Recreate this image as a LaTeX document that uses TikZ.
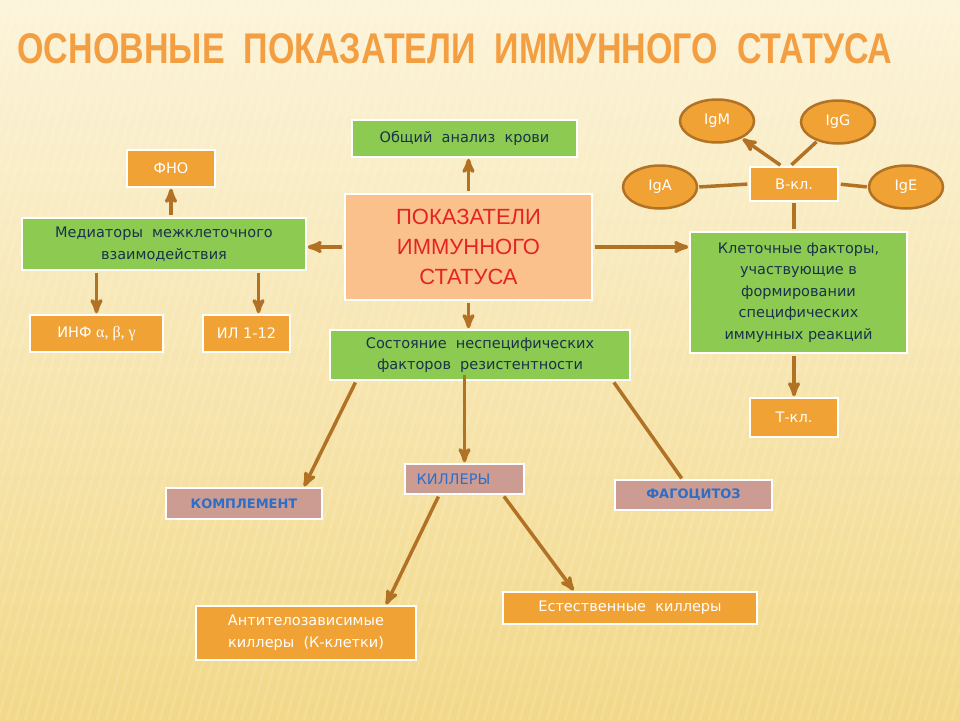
\documentclass[tikz,border=0pt]{standalone}
\usepackage{fontspec}
\setmainfont{DejaVu Sans}
\newfontfamily\titlefont{Liberation Sans}
\newfontfamily\greekfont{Liberation Serif}
\usepackage{graphicx}
\usepackage{tikz}
\usetikzlibrary{arrows,shapes.geometric}
\usepackage{xcolor}
\definecolor{bgtop}{RGB}{252,244,218}
\definecolor{bgbottom}{RGB}{242,216,136}
\definecolor{boxorange}{RGB}{241,162,52}
\definecolor{boxgreen}{RGB}{141,202,82}
\definecolor{boxpeach}{RGB}{250,193,140}
\definecolor{boxpink}{RGB}{204,156,146}
\definecolor{navytext}{RGB}{25,50,75}
\definecolor{bluetext}{RGB}{45,110,200}
\definecolor{redtext}{RGB}{228,36,36}
\definecolor{titleorange}{RGB}{244,158,66}
\definecolor{linebrown}{RGB}{178,114,38}

\begin{document}
\begin{tikzpicture}[x=1pt,y=-1pt,->,>=stealth',semithick]
  \tikzstyle{greenbox}=[rectangle,fill=boxgreen,draw=white,line width=1.5pt,text=navytext,align=center,font=\fontsize{14.5}{21.5}\selectfont]
  \tikzstyle{orangebox}=[rectangle,fill=boxorange,draw=white,line width=1.5pt,text=white,align=center,font=\fontsize{14.5}{22}\selectfont]
  \tikzstyle{pinkbox}=[rectangle,fill=boxpink,draw=white,line width=1.5pt,text=bluetext,align=center,font=\bfseries\fontsize{13}{16}\selectfont]
  \tikzstyle{ig}=[ellipse,fill=boxorange,draw=linebrown,line width=2.5pt,text=white,minimum width=74pt,minimum height=43pt,font=\fontsize{14.5}{16}\selectfont]
  \tikzstyle{link}=[draw=linebrown,line width=3.5pt,shorten >=1pt,shorten <=2pt]

  % background
  \path[use as bounding box] (0,0) rectangle (960,720);
  \shade[top color=bgtop,bottom color=bgbottom,draw=none] (0,0) rectangle (960,720);
  \foreach \s in {-200,-191,...,960}
    \draw[-,white,opacity=0.13,line width=2.5pt] (\s+200,0) -- (\s,720);

  \node (title) at (455,49) {\color{titleorange}\resizebox{875pt}{30pt}{\titlefont\bfseries ОСНОВНЫЕ\ \ ПОКАЗАТЕЛИ\ \ ИММУННОГО\ \ СТАТУСА}};

  % centre
  \node[rectangle,fill=boxpeach,draw=white,line width=1.5pt,text=redtext,align=center,
        minimum width=247pt,minimum height=106pt,font=\titlefont\fontsize{22}{30}\selectfont]
        (main) at (468.5,247) {ПОКАЗАТЕЛИ\\ИММУННОГО\\СТАТУСА};
  \node[greenbox,minimum width=225pt,minimum height=37pt] (oak)  at (464.5,138.5) {Общий\ \ анализ\ \ крови};
  \node[greenbox,minimum width=300pt,minimum height=50pt] (sost) at (480,355) {Состояние\ \ неспецифических\\факторов\ \ резистентности};

  % left branch
  \node[greenbox,minimum width=284pt,minimum height=52pt] (med) at (164,244) {Медиаторы\ \ межклеточного\\взаимодействия};
  \node[orangebox,minimum width=88pt,minimum height=37pt] (fno) at (171,168.5) {ФНО};
  \node[orangebox,minimum width=133pt,minimum height=37pt] (inf) at (96.5,333.5) {ИНФ {\greekfont\fontsize{16}{16}\selectfont α, β, γ}};
  \node[orangebox,minimum width=87pt,minimum height=37pt] (il) at (246.5,333.5) {ИЛ\ 1-12};

  % right branch
  \node[greenbox,minimum width=217pt,minimum height=121pt] (klet) at (798.5,292.5) {Клеточные факторы,\\участвующие в\\формировании\\специфических\\иммунных реакций};
  \node[orangebox,minimum width=88pt,minimum height=34pt] (bkl) at (794,184) {В-кл.};
  \node[orangebox,minimum width=88pt,minimum height=39pt] (tkl) at (794,417.5) {Т-кл.};
  \node[ig] (igm) at (717,121) {IgM};
  \node[ig] (igg) at (838,122) {IgG};
  \node[ig] (iga) at (660,187) {IgA};
  \node[ig] (ige) at (906,187) {IgE};

  % lower branch
  \node[pinkbox,minimum width=156pt,minimum height=31pt] (kompl) at (244,503.5) {КОМПЛЕМЕНТ};
  \node[pinkbox,minimum width=119pt,minimum height=30pt,font=\fontsize{14.5}{16}\selectfont] (kil) at (464.5,479) {КИЛЛЕРЫ\hspace*{22pt}};
  \node[pinkbox,minimum width=157pt,minimum height=30pt] (fag) at (693.5,495) {ФАГОЦИТОЗ};
  \node[orangebox,minimum width=220pt,minimum height=54pt] (atz) at (306,633) {Антителозависимые\\киллеры\ \ (К-клетки)};
  \node[orangebox,minimum width=254pt,minimum height=32pt] (est) at (630,608) {Естественные\ \ киллеры};

  \path (main.west) edge[link] (main.west -| med.east)
        (main.north) edge[link] (main.north |- oak.south)
        (main.south) edge[link] (main.south |- sost.north)
        (main.east) edge[link] (main.east -| klet.west)
        (med.north -| fno) edge[link] (fno.south)
        (inf.north |- med.south) edge[link] (inf.north)
        ([xshift=12pt]il.north |- med.south) edge[link] ([xshift=12pt]il.north)
        (klet.north -| bkl) edge[link,-] (bkl.south)
        (bkl.west) edge[link,-] (iga.east)
        (bkl.east) edge[link,-] (ige.west)
        ([xshift=-12pt]bkl.north) edge[link] (igm)
        ([xshift=-4pt]bkl.north) edge[link,-] (igg)
        (klet.south -| tkl) edge[link] (tkl.north)
        ([xshift=27pt]sost.south west) edge[link] ([xshift=-19pt]kompl.north east)
        ([yshift=8pt]sost.south -| kil) edge[link] (kil.north)
        ([xshift=-18pt]sost.south east) edge[link,-] ([xshift=68pt]fag.north west)
        ([xshift=35pt]kil.south west) edge[link] ([xshift=-31pt]atz.north east)
        ([xshift=-22pt]kil.south east) edge[link] ([xshift=72pt]est.north west);
\end{tikzpicture}
\end{document}
